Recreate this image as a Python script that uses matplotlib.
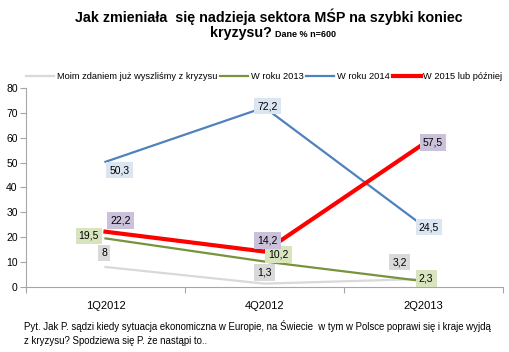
import matplotlib
matplotlib.use("Agg")
import matplotlib.pyplot as plt

plt.rcParams['font.family'] = ['Liberation Sans', 'DejaVu Sans']

kwartaly = ['1Q2012', '4Q2012', '2Q2013']
wyszlismy = [8, 1.3, 3.2]
rok2013 = [19.5, 10.2, 2.3]
rok2014 = [50.3, 72.2, 24.5]
rok2015 = [22.2, 14.2, 57.5]

fig = plt.figure(figsize=(5.1, 3.52), dpi=100)
ax = fig.add_axes([0.051, 0.185, 0.935, 0.565])

x = range(len(kwartaly))
ax.plot(x, wyszlismy, color='#d9d9d9', lw=1.6, label='Moim zdaniem już wyszliśmy z kryzysu')
ax.plot(x, rok2013, color='#77933c', lw=1.6, label='W roku 2013')
ax.plot(x, rok2014, color='#4f81bd', lw=1.6, label='W roku 2014')
ax.plot(x, rok2015, color='#ff0000', lw=3, label='W 2015 lub później')

# etykiety danych (przesuniecia w punktach)
def etykieta(i, v, kolor, dx, dy):
    ax.annotate(str(v).replace('.', ','), (i, v), xytext=(dx, dy),
                textcoords='offset points', ha='center', va='center', fontsize=7.5,
                bbox=dict(boxstyle='square,pad=0.3', fc=kolor, ec='none'))

szary, zielony, niebieski, fiolet = '#d9d9d9', '#d7e4bd', '#dce6f2', '#ccc1da'
etykieta(0, wyszlismy[0], szary, -1, 10)
etykieta(1, wyszlismy[1], szary, 0, 8)
etykieta(2, wyszlismy[2], szary, -17, 12)
etykieta(0, rok2013[0], zielony, -12, 2)
etykieta(1, rok2013[1], zielony, 10, 5)
etykieta(2, rok2013[2], zielony, 2, 2)
etykieta(0, rok2014[0], niebieski, 10, -6)
etykieta(1, rok2014[1], niebieski, 2, 1)
etykieta(2, rok2014[2], niebieski, 4, -1)
etykieta(0, rok2015[0], fiolet, 11, 8)
etykieta(1, rok2015[1], fiolet, 2, 8)
etykieta(2, rok2015[2], fiolet, 7, 1)

ax.set_xlim(-0.5, 2.5)
ax.set_ylim(0, 80)
ax.set_yticks(range(0, 81, 10))
ax.set_xticks([-0.5, 0.5, 1.5, 2.5])
ax.set_xticklabels([])
ax.set_xticks(list(x), minor=True)
ax.set_xticklabels(kwartaly, minor=True, fontsize=8)
ax.tick_params(axis='x', which='minor', length=0, pad=10)
ax.tick_params(axis='x', which='major', length=4, color='#a6a6a6')
ax.tick_params(axis='y', labelsize=7.5, length=4, color='#a6a6a6', pad=2)
for s in ['top', 'right']:
    ax.spines[s].set_visible(False)
for s in ['left', 'bottom']:
    ax.spines[s].set_color('#a6a6a6')

ax.legend(loc='lower center', bbox_to_anchor=(0.5, 1.0), ncol=4, frameon=False,
          fontsize=6.7, handlelength=3, handletextpad=0.3, columnspacing=0.3,
          borderaxespad=0.3)

fig.text(0.527, 0.952, 'Jak zmieniała  się nadzieja sektora MŚP na szybki koniec',
         ha='center', va='center', fontsize=10.3, fontweight='bold')
fig.text(0.54, 0.906, 'kryzysu? ', ha='right', va='center', fontsize=10.3, fontweight='bold')
fig.text(0.54, 0.903, 'Dane % n=600', ha='left', va='center', fontsize=6.5, fontweight='bold')

fig.text(0.048, 0.054, 'Pyt. Jak P. sądzi kiedy sytuacja ekonomiczna w Europie, na Świecie  w tym w Polsce poprawi się i kraje wyjdą\nz kryzysu? Spodziewa się P. że nastąpi to..',
         ha='left', va='center', fontsize=6.9, linespacing=1.4)

fig.savefig('out.png', dpi=100)
